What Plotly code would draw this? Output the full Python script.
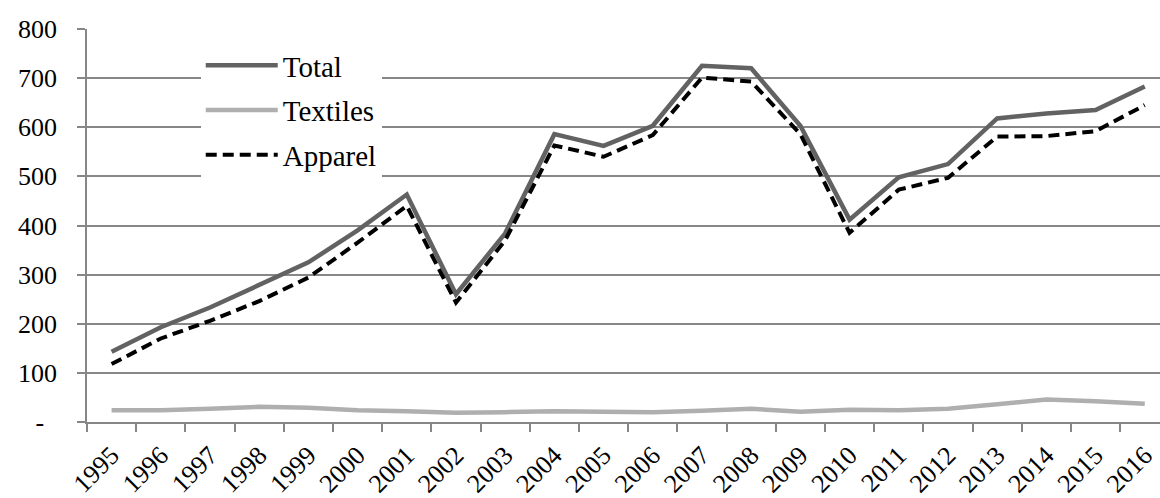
import plotly.graph_objects as go

years = [str(y) for y in range(1995, 2017)]
total = [143, 193, 233, 278, 325, 390, 463, 260, 384, 586, 562, 603,
         725, 720, 603, 412, 498, 525, 618, 628, 635, 683]
textiles = [24, 24, 27, 31, 29, 24, 22, 19, 20, 22, 21, 20,
            23, 27, 21, 25, 24, 27, 36, 46, 42, 37]
apparel = [118, 170, 206, 246, 294, 365, 440, 243, 370, 563, 540, 584,
           701, 693, 586, 385, 473, 497, 581, 582, 592, 645]

y_ticks = [0, 100, 200, 300, 400, 500, 600, 700, 800]
y_tick_text = ["-\u00a0\u00a0"] + [str(v) for v in y_ticks[1:]]

FONT = "Liberation Serif"
GRID = "#878787"

fig = go.Figure()
fig.add_trace(go.Scatter(x=years, y=total, name="Total", mode="lines",
                         line=dict(color="#626262", width=4.5),
                         legendgroup="a"))
fig.add_trace(go.Scatter(x=years, y=textiles, name="Textiles", mode="lines",
                         line=dict(color="#afafaf", width=4.5),
                         legendgroup="b"))
fig.add_trace(go.Scatter(x=years, y=apparel, name="Apparel", mode="lines",
                         line=dict(color="#000000", width=4, dash="11px,6px"),
                         legendgroup="c"))

fig.update_layout(
    width=1160, height=498,
    margin=dict(l=87, r=0, t=29, b=76),
    paper_bgcolor="white", plot_bgcolor="white",
    font=dict(family=FONT, color="black", size=26),
    showlegend=True,
    legend=dict(x=0.106, y=0.972, xanchor="left", yanchor="top",
                bgcolor="white", font=dict(family=FONT, size=29),
                itemwidth=72, tracegroupgap=4, traceorder="grouped",
                entrywidth=205, entrywidthmode="pixels"),
)
fig.update_xaxes(
    type="category", range=[-0.5, 21.31], automargin=False,
    tickson="boundaries", ticks="outside", ticklen=8, tickcolor=GRID,
    tickwidth=1.5, showline=True, linecolor=GRID, linewidth=1.5,
    showgrid=False, tickangle=-45, tickfont=dict(family=FONT, size=26),
    ticklabelstandoff=6, fixedrange=True,
)
fig.update_yaxes(
    range=[0, 800], tickvals=y_ticks, ticktext=y_tick_text, automargin=False,
    ticks="outside", ticklen=8, tickcolor=GRID, tickwidth=1.5,
    showline=True, linecolor=GRID, linewidth=1.5,
    showgrid=True, gridcolor=GRID, gridwidth=1.5, zeroline=False,
    tickfont=dict(family=FONT, size=26), ticklabelstandoff=15,
    fixedrange=True,
)

fig.write_html("out.html")
